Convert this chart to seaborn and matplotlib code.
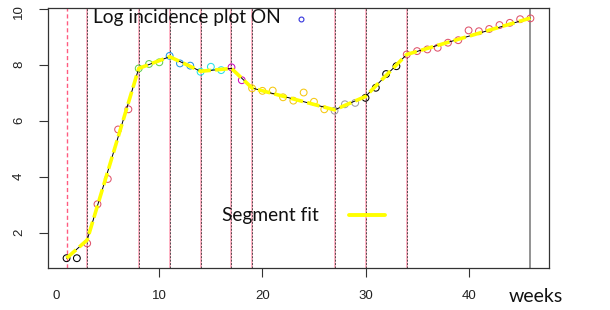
import matplotlib
matplotlib.use("Agg")
import matplotlib.pyplot as plt
from matplotlib.lines import Line2D
import seaborn as sns
import pandas as pd

# weekly log incidence
weeks = [1, 2, 3, 4, 5, 6, 7, 8, 9, 10, 11, 12, 13, 14, 15, 16, 17, 18, 19, 20, 21, 22, 23,
         24, 25, 26, 27, 28, 29, 30, 31, 32, 33, 34, 35, 36, 37, 38, 39, 40, 41, 42, 43, 44, 45, 46]
log_incidence = [1.10, 1.10, 1.63, 3.03, 3.93, 5.70, 6.42, 7.88, 8.04, 8.10, 8.33, 8.06, 7.98,
                 7.76, 7.94, 7.82, 7.92, 7.46, 7.17, 7.08, 7.09, 6.85, 6.73, 7.02, 6.69, 6.42,
                 6.37, 6.60, 6.65, 6.83, 7.19, 7.68, 7.96, 8.38, 8.50, 8.56, 8.62, 8.80, 8.89,
                 9.24, 9.21, 9.29, 9.43, 9.51, 9.64, 9.67]
# R colour index of each point (colour cycles with the segment)
segment = [1, 1, 2, 2, 2, 2, 2, 3, 3, 3, 4, 4, 4, 5, 5, 5, 6, 6, 7, 7, 7, 7, 7, 7, 7, 7,
           8, 8, 8, 1, 1, 1, 1, 2, 2, 2, 2, 2, 2, 2, 2, 2, 2, 2, 2, 2]

# segment fit: breakpoints and fitted values there
breaks = [1, 3, 8, 11, 14, 17, 19, 27, 30, 34, 46]
fit_at_breaks = [1.10, 1.75, 7.88, 8.30, 7.78, 7.88, 7.18, 6.40, 6.88, 8.38, 9.68]

r_palette = {1: "black", 2: "#DF536B", 3: "#61D04F", 4: "#2297E6",
             5: "#28E2E5", 6: "#CD0BBC", 7: "#F5C710", 8: "#9E9E9E"}

sns.set_style("white")
plt.rcParams["font.family"] = ["Liberation Sans", "DejaVu Sans"]

W, H = 610, 310
fig = plt.figure(figsize=(W / 100, H / 100), dpi=100)
ax = fig.add_axes([48 / W, 42 / H, 501 / W, 260 / H])

df = pd.DataFrame({"week": weeks, "loginc": log_incidence, "seg": segment})

# breakpoint markers
ax.axvline(breaks[0], color="#FF5C80", lw=1.0, ls=(0, (3, 2)), zorder=1)
for b in breaks[1:-1]:
    ax.axvline(b, color="#FFAEC0", lw=1.3, zorder=1)
    ax.axvline(b, color="#444444", lw=0.65, ls=(0, (2.2, 1.6)), zorder=1)
ax.axvline(breaks[-1], color="#808080", lw=1.2, zorder=1)

sns.scatterplot(data=df, x="week", y="loginc", hue="seg", palette=r_palette,
                s=24, legend=False, ax=ax, zorder=2)
pts = ax.collections[-1]
pts.set_edgecolors(pts.get_facecolors())
pts.set_facecolors("none")
pts.set_linewidth(0.75)

sns.lineplot(x=breaks, y=fit_at_breaks, color="black", lw=0.7, ax=ax, zorder=3)
sns.lineplot(x=breaks, y=fit_at_breaks, color="yellow", lw=2.6, ax=ax, zorder=4)
ax.lines[-1].set_dashes([3.5, 1.2])

ax.set_xlim(-0.8, 47.8)
ax.set_ylim(0.75, 10.04)
ax.set_xticks([0, 10, 20, 30, 40])
ax.set_yticks([2, 4, 6, 8, 10])
ax.set_xlabel("")
ax.set_ylabel("")
ax.tick_params(axis="both", direction="out", bottom=True, left=True, length=6.5,
               width=0.8, color="#333333", labelsize=9.5, labelcolor="#222222")
ax.tick_params(axis="x", pad=9)
ax.tick_params(axis="y", pad=10, labelrotation=90)
ax.xaxis.get_major_ticks()[0].tick1line.set_visible(False)
for sp in ax.spines.values():
    sp.set_color("#333333")
    sp.set_linewidth(0.9)

txt_font = ["Lato", "DejaVu Sans"]
fig.text(93 / W, 1 - 18 / H, "Log incidence plot ON", family=txt_font, fontsize=13.8,
         va="center", ha="left", color="#111111")
fig.add_artist(Line2D([301 / W], [1 - 19 / H], marker="o", markersize=3.5,
                      markerfacecolor="none", markeredgecolor="#3333DD", markeredgewidth=0.8))
fig.text(222 / W, 1 - 215 / H, "Segment fit", family=txt_font, fontsize=13.8,
         va="center", ha="left", color="#111111")
fig.add_artist(Line2D([349 / W, 385 / W], [1 - 215 / H, 1 - 215 / H], color="yellow", lw=2.8))
fig.text(509 / W, 1 - 296 / H, "weeks", family=txt_font, fontsize=14,
         va="center", ha="left", color="#111111")

fig.savefig("out.png", dpi=100)
